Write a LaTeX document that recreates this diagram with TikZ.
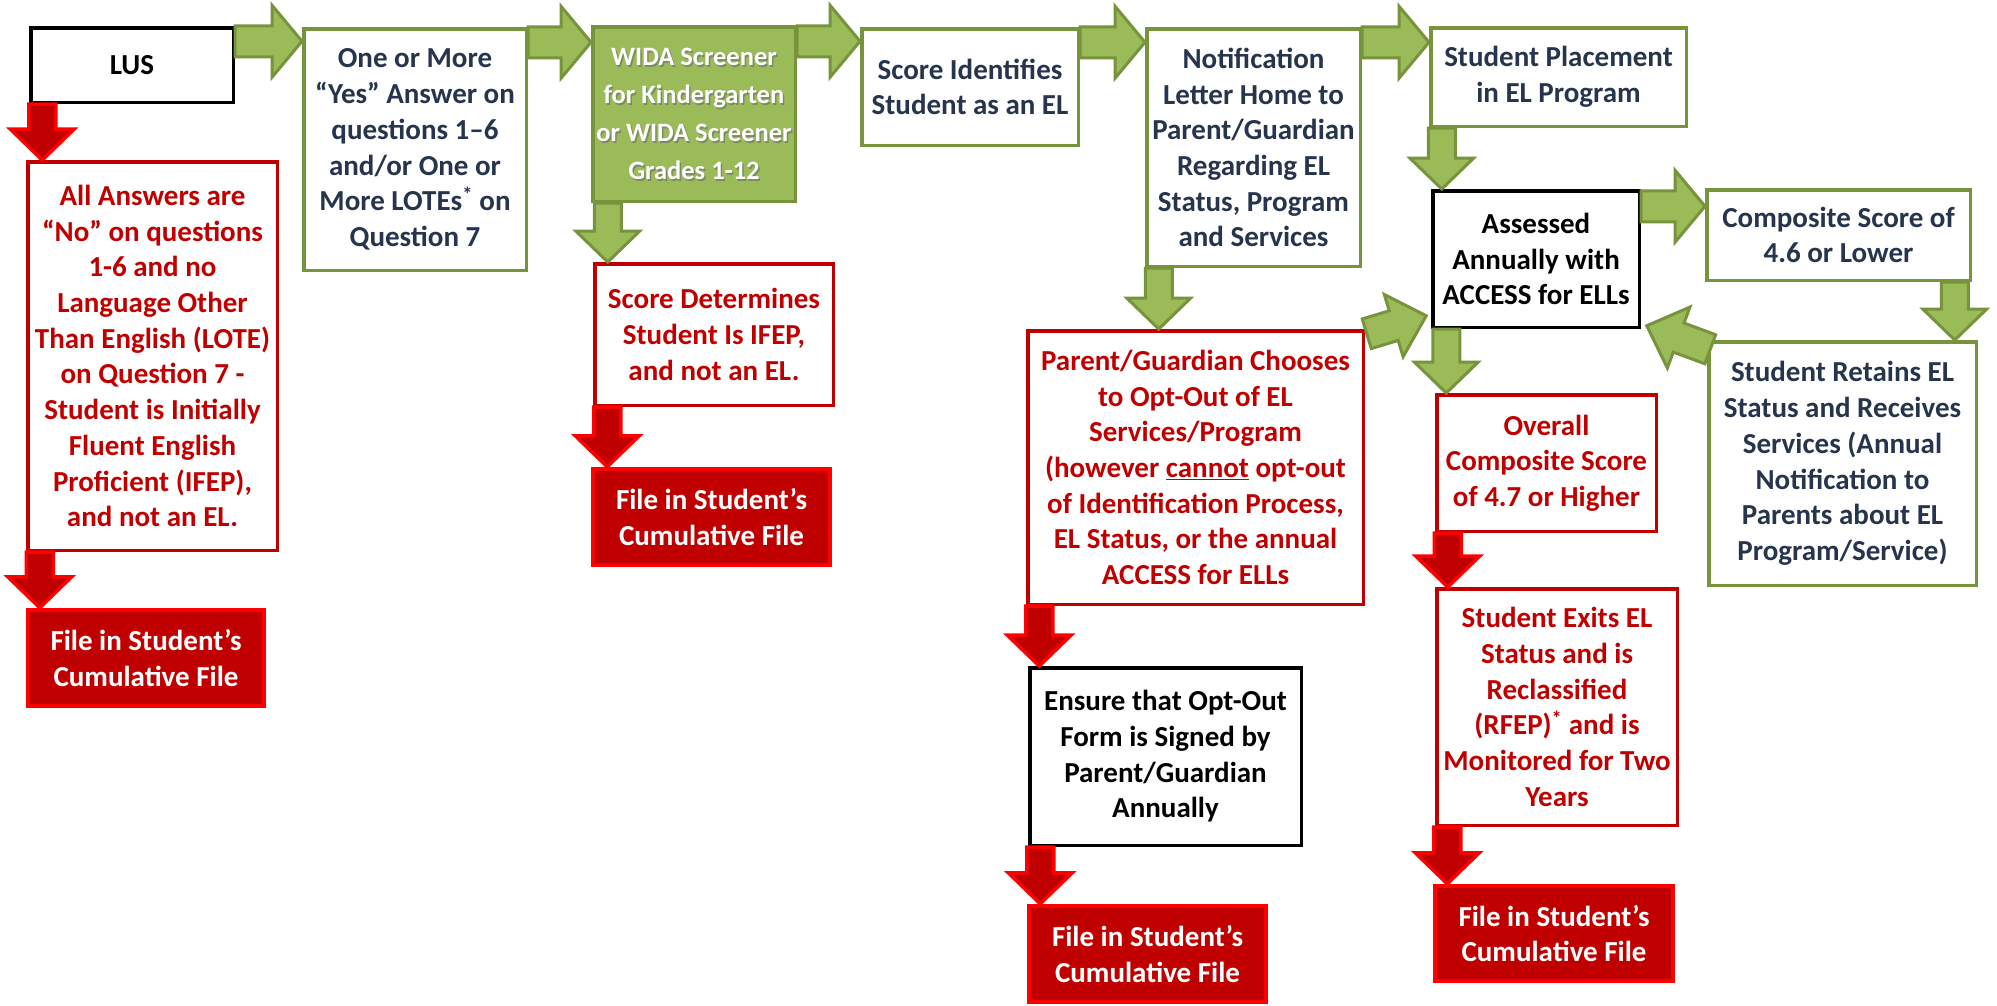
\documentclass[tikz,border=0pt]{standalone}
\usepackage{fontspec}
\setmainfont{Carlito}
\usetikzlibrary{calc}
\definecolor{gfill}{HTML}{9BBB59}
\definecolor{gline}{HTML}{77933C}
\definecolor{dred}{HTML}{C00000}
\definecolor{bred}{HTML}{FF0000}
\definecolor{navy}{HTML}{27344D}
% block arrow: style, tail, tip, shaft half width, head half width, head length
\newcommand\barrow[6]{%
  \coordinate (ba-c) at ($#3!#6!#2$);
  \draw[#1] ($#2!#4!90:#3$) -- ($(ba-c)!#4!-90:#2$) -- ($(ba-c)!#5!-90:#2$) -- #3
    -- ($(ba-c)!#5!90:#2$) -- ($(ba-c)!#4!90:#2$) -- ($#2!#4!-90:#3$) -- cycle;}
% down arrow: style, prefix, from node, to node, x offset from from.south west
\newcommand\darrow[5]{%
  \coordinate (#2s) at ($(#3.south west)+(#5,0)$);
  \coordinate (#2e) at (#2s |- #4.north);
  \barrow{#1}{(#2s)}{(#2e)}{13.5pt}{32pt}{31pt}}
% right arrow: style, prefix, from node, to node, y offset from from.north east
\newcommand\harrow[5]{%
  \coordinate (#2s) at ($(#3.north east)+(0,#5)$);
  \coordinate (#2e) at (#2s -| #4.west);
  \barrow{#1}{(#2s)}{(#2e)}{15.5pt}{36pt}{30pt}}
% box by corners
\newcommand\bx[7]{\node[#1, minimum width={#5-#3-3.5}, minimum height={#6-#4-3.5}] (#2) at ({(#3+#5)/2},{(#4+#6)/2}) {#7};}
\tikzset{
  box/.style={rectangle, draw, line width=3.5pt, fill=white, align=center, inner sep=0pt,
    font={\bfseries\fontsize{29pt}{35.7pt}\selectfont}},
  gbox/.style={box, draw=gline, text=navy},
  kbox/.style={box, draw=black, text=black},
  rbox/.style={box, draw=dred, text=dred},
  filebox/.style={box, draw=bred, fill=dred, text=white, line width=4pt},
  wbox/.style={box, draw=gline, fill=gfill},
  wtext/.style={align=center, inner sep=0pt, font={\bfseries\fontsize{26.5pt}{38pt}\selectfont}},
  garrow/.style={draw=gline, fill=gfill, line width=3pt, line join=miter},
  rarrow/.style={draw=bred, fill=dred, line width=3.5pt, line join=miter},
}
\begin{document}
\begin{tikzpicture}[x=1pt,y=-1pt]
\useasboundingbox (0,0) rectangle (1997,1005);
% top row
\bx{kbox}{lus}{29}{26}{235}{104}{LUS}
\bx{gbox}{b2}{302}{27}{528}{272}{One or More\\“Yes” Answer on\\questions 1–6\\and/or One or\\More LOTEs\textsuperscript{*} on\\Question 7}
\bx{wbox}{wida}{591}{25}{797}{203}{}
\node[wtext, text=black!60, opacity=0.55] (wida-sh) at ($(wida.center)+(1.5,2)$) {WIDA Screener\\for Kindergarten\\or WIDA Screener\\Grades 1-12};
\node[wtext, text=white] (wida-t) at (wida.center) {WIDA Screener\\for Kindergarten\\or WIDA Screener\\Grades 1-12};
\bx{gbox}{score}{860}{27}{1080}{147}{Score Identifies\\Student as an EL}
\bx{gbox}{notif}{1145}{27}{1362}{268}{Notification\\Letter Home to\\Parent/Guardian\\Regarding EL\\Status, Program\\and Services}
\bx{gbox}{place}{1429}{26}{1688}{128}{Student Placement\\in EL Program}
\bx{kbox}{assess}{1431}{189}{1641}{329}{Assessed\\Annually with\\ACCESS for ELLs}
\bx{gbox}{comp}{1705}{188}{1972}{282}{Composite Score of\\4.6 or Lower}
\bx{gbox}{retain}{1707}{340}{1978}{587}{Student Retains EL\\Status and Receives\\Services (Annual\\Notification to\\Parents about EL\\Program/Service)}
% red branch boxes
\bx{rbox}{r1}{26}{160}{279}{552}{All Answers are\\“No” on questions\\1-6 and no\\Language Other\\Than English (LOTE)\\on Question 7 -\\Student is Initially\\Fluent English\\Proficient (IFEP),\\and not an EL.}
\bx{filebox}{f1}{26}{608}{266}{708}{File in Student’s\\Cumulative File}
\bx{rbox}{ifep}{593}{262}{835}{407}{Score Determines\\Student Is IFEP,\\and not an EL.}
\bx{filebox}{f2}{591}{467}{832}{567}{File in Student’s\\Cumulative File}
\bx{rbox}{opt}{1026}{329}{1365}{606}{Parent/Guardian Chooses\\to Opt-Out of EL\\Services/Program\\(however \underline{cannot} opt-out\\of Identification Process,\\EL Status, or the annual\\ACCESS for ELLs}
\bx{kbox}{ensure}{1028}{666}{1303}{847}{Ensure that Opt-Out\\Form is Signed by\\Parent/Guardian\\Annually}
\bx{filebox}{f3}{1027}{904}{1268}{1004}{File in Student’s\\Cumulative File}
\bx{rbox}{overall}{1435}{393}{1658}{533}{Overall\\Composite Score\\of 4.7 or Higher}
\bx{rbox}{exits}{1435}{587}{1679}{827}{Student Exits EL\\Status and is\\Reclassified\\(RFEP)\textsuperscript{*} and is\\Monitored for Two\\Years}
\bx{filebox}{f4}{1433}{884}{1675}{983}{File in Student’s\\Cumulative File}
% right arrows
\harrow{garrow}{a1}{lus}{b2}{15.25}
\harrow{garrow}{a2}{b2}{wida}{15.25}
\harrow{garrow}{a3}{wida}{score}{16.25}
\harrow{garrow}{a4}{score}{notif}{15.25}
\harrow{garrow}{a5}{notif}{place}{15.25}
\harrow{garrow}{a6}{assess}{comp}{17.25}
% down arrows
\darrow{rarrow}{d1}{lus}{r1}{13.25}
\darrow{rarrow}{d2}{r1}{f1}{13.75}
\darrow{garrow}{d3}{wida}{ifep}{16.75}
\darrow{rarrow}{d4}{ifep}{f2}{14.25}
\darrow{garrow}{d5}{notif}{opt}{13.75}
\darrow{rarrow}{d6}{opt}{ensure}{13.25}
\darrow{rarrow}{d7}{ensure}{f3}{12.25}
\darrow{garrow}{d8}{place}{assess}{12.75}
\darrow{garrow}{d9}{assess}{overall}{15.25}
\darrow{rarrow}{d10}{overall}{exits}{12.75}
\darrow{rarrow}{d11}{exits}{f4}{12.25}
\darrow{garrow}{d12}{comp}{retain}{249.75}
% diagonal arrows into the assessment box
\coordinate (g1s) at ($(opt.north east)+(1.75,4.75)$);
\coordinate (g1e) at ($(assess.south west)+(-4.75,-13.25)$);
\barrow{garrow}{(g1s)}{(g1e)}{15.5pt}{32.5pt}{34pt}
\coordinate (g2s) at ($(retain.north west)+(3.25,9.25)$);
\coordinate (g2e) at ($(assess.south east)+(5.75,-3.25)$);
\barrow{garrow}{(g2s)}{(g2e)}{15.5pt}{32.5pt}{34pt}
\end{tikzpicture}
\end{document}
